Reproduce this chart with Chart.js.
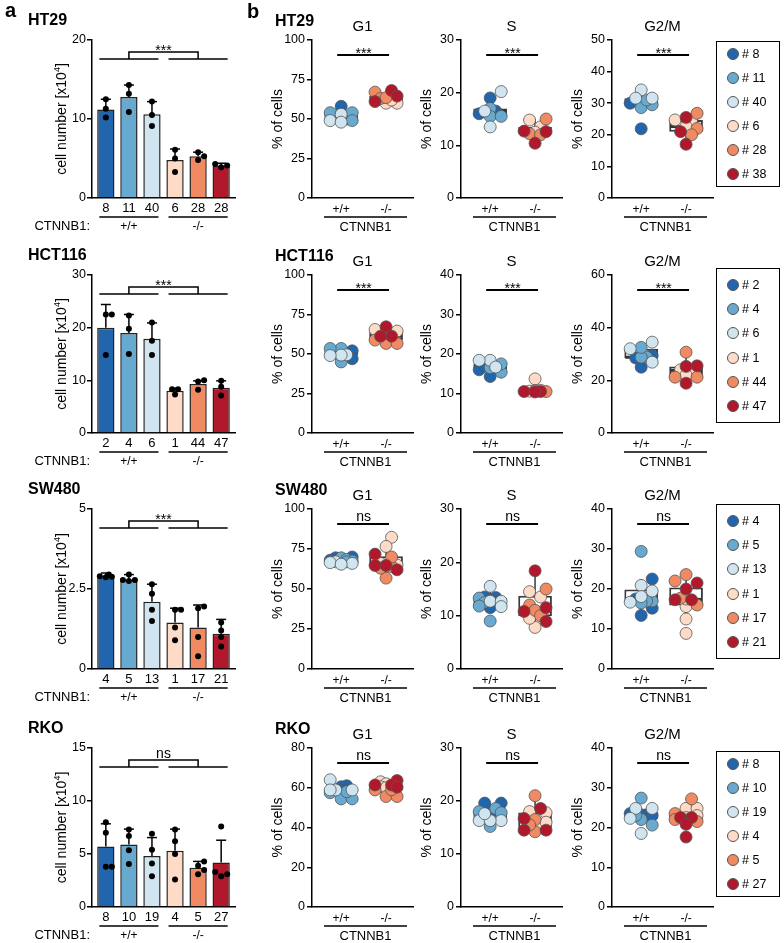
<!DOCTYPE html>
<html>
<head>
<meta charset="utf-8">
<script src="https://cdn.jsdelivr.net/npm/chart.js@4.4.0/dist/chart.umd.min.js"></script>
<style>
  body { margin: 0; background: #fff; }
  #fig { position: relative; width: 784px; height: 943px; overflow: hidden; font-family: "Liberation Sans", Arial, sans-serif; }
  #fig canvas { position: absolute; }
  .legend { position: absolute; border: 1.5px solid #000; box-sizing: border-box; display: flex; flex-direction: column; justify-content: center; }
  .legend .item { height: 24.3px; display: flex; align-items: center; font-size: 12.5px; padding-left: 10px; color: #000; }
  .legend .dot { width: 12px; height: 12px; border-radius: 50%; border: 1px solid #555; box-sizing: border-box; margin-right: 3px; }
</style>
</head>
<body>
<div id="fig"></div>
<script>
// ---- data ----
const cellLines = ['HT29', 'HCT116', 'SW480', 'RKO'];
const genotypes = ['+/+', '-/-'];
const phases = ['G1', 'S', 'G2/M'];
const cloneColors = ['#2166ac', '#67a9cf', '#d1e5f0', '#fddbc7', '#ef8a62', '#b2182b'];

const ht29Clones = ['8', '11', '40', '6', '28', '38'];
const hct116Clones = ['2', '4', '6', '1', '44', '47'];
const sw480Clones = ['4', '5', '13', '1', '17', '21'];
const rkoClones = ['8', '10', '19', '4', '5', '27'];
const ht29BarLabels = ['8', '11', '40', '6', '28', '28'];

// panel a: cell number [x10^4]
const ht29Means = [11.2, 12.8, 10.6, 4.8, 5.3, 4.1];
const ht29SD = [1.3, 1.5, 1.6, 1.4, 0.5, 0.3];
const ht29Reps = [[12.5, 11.3, 10.2], [14.3, 13.2, 10.9], [12.2, 10.5, 9.1], [6.1, 5.0, 3.3], [5.8, 5.3, 4.8], [4.3, 4.1, 3.9]];
const hct116Means = [20, 19, 17.9, 8, 9.3, 8.6];
const hct116SD = [4.4, 3.5, 3.0, 0.5, 0.6, 1.3];
const hct116Reps = [[22.5, 22.5, 14.8], [22.3, 19.8, 15.0], [21, 17.5, 14.8], [8.3, 8.3, 7.3], [10, 9.8, 8.2], [9.9, 8.8, 7.1]];
const sw480Means = [2.9, 2.8, 2.1, 1.45, 1.3, 1.1];
const sw480SD = [0.1, 0.15, 0.55, 0.45, 0.7, 0.45];
const sw480Reps = [[2.95, 2.9, 2.88, 2.87], [2.95, 2.78, 2.78, 2.75], [2.65, 2.35, 1.85, 1.5], [1.85, 1.85, 1.3, 0.9], [1.95, 1.9, 1.0, 0.4], [1.45, 1.2, 1.0, 0.7]];
const rkoMeans = [5.7, 5.9, 4.8, 5.3, 3.7, 4.2];
const rkoSD = [2.15, 1.45, 1.75, 2.05, 0.6, 2.1];
const rkoReps = [[8, 7, 3.8, 3.8], [7.3, 6.7, 5.35, 4.05], [6.9, 5.4, 4.1, 2.9], [7.3, 6.2, 5.0, 2.6], [4.3, 3.9, 3.5, 3.1], [7.6, 3.3, 3.1, 2.9]];

// panel b: % of cells per clone
const ht29G1 = [[58, 51, 50], [54, 54, 49], [53, 49, 48], [60, 60, 62], [67, 63, 63.5], [68, 64.5, 61]];
const ht29S = [[19, 16.5, 16], [17, 15.5, 15.5], [20.2, 16.5, 13.5], [14.8, 13.5, 12.5], [15, 12.2, 12], [12.7, 12.6, 10.4]];
const ht29G2M = [[21.9, 30, 30.5], [28.6, 29.5, 31], [34.2, 31.6, 31.6], [24.7, 24.7, 22.6], [26.8, 22, 20], [25.5, 21, 17]];
const hct116G1 = [[50.5, 52, 47], [53.5, 53.5, 45], [49.5, 49.3, 49], [65.5, 64.5, 62.5], [56.7, 56.7, 58.8], [67.2, 61.3, 61.3]];
const hct116S = [[14.3, 16, 17], [15.4, 16.5, 17.5], [18.4, 18.4, 16.7], [13.7, 10.8, 10.6], [10.5, 10.6, 10.7], [10.5, 10.5, 10.4]];
const hct116G2M = [[25, 28.5, 29.4], [28.8, 28.8, 32.5], [34.5, 32, 26.9], [24, 23.8, 22], [30.7, 21.2, 21.2], [25.5, 25.3, 18.9]];
const sw480G1 = [[70, 69.5, 68, 67.5], [69.5, 68.5, 67.5, 67], [67, 66.5, 66, 65.5], [82.3, 76.6, 66, 65], [56.8, 64, 70, 63], [71.8, 64.7, 64.7, 62]];
const sw480S = [[13.5, 13.4, 12.5, 11.5], [13.3, 12.5, 9, 11.8], [15.5, 12.7, 12.7, 11.7], [7.8, 9.5, 14.5, 13.5], [15, 12, 11, 10], [18.4, 11.5, 10.8, 8.9]];
const sw480G2M = [[22.5, 15.2, 13.4, 17.5], [29.4, 17, 17, 16.5], [20.9, 18.1, 16.7, 19.5], [15.6, 12.5, 8.9, 17.5], [23.6, 22, 17.7, 16], [21.5, 17.3, 17.3, 20]];
const rkoG1 = [[61, 60.5, 59, 58.5], [54.4, 54.4, 58, 57.5], [64, 58.9, 58.9, 58.9], [63, 62, 60.5, 60], [55.6, 55.6, 58.9, 59], [63.6, 61.4, 61.4, 60.3]];
const rkoS = [[19.6, 19.6, 17.8, 17.5], [18.6, 15.2, 17.8, 18], [16.3, 16.3, 16.3, 17.6], [17.8, 18, 15, 16], [21, 14.2, 16.5, 15.5], [18.6, 16.7, 14.5, 14.5]];
const rkoG2M = [[23.2, 23.2, 23, 23.5], [27.4, 20.6, 22, 23], [24.8, 24.8, 22.3, 18.5], [24.8, 24.8, 23, 22.5], [27.2, 23.5, 22, 21.5], [22.5, 22.5, 20.8, 17.6]];

// axis ranges / significance
const barMax = [20, 30, 5, 15];
const barStep = [10, 10, 2.5, 5];
const phaseMax = [[100, 30, 50], [100, 40, 60], [100, 30, 40], [80, 30, 40]];
const phaseStep = [[25, 10, 10], [25, 10, 20], [25, 10, 10], [20, 10, 10]];
const barSig = ['***', '***', '***', 'ns'];
const phaseSig = ['***', '***', 'ns', 'ns'];

const rows = [
  {clones: ht29Clones, labels: ht29BarLabels, means: ht29Means, sd: ht29SD, reps: ht29Reps, phases: [ht29G1, ht29S, ht29G2M]},
  {clones: hct116Clones, labels: hct116Clones, means: hct116Means, sd: hct116SD, reps: hct116Reps, phases: [hct116G1, hct116S, hct116G2M]},
  {clones: sw480Clones, labels: sw480Clones, means: sw480Means, sd: sw480SD, reps: sw480Reps, phases: [sw480G1, sw480S, sw480G2M]},
  {clones: rkoClones, labels: rkoClones, means: rkoMeans, sd: rkoSD, reps: rkoReps, phases: [rkoG1, rkoS, rkoG2M]}
];

// ---- layout ----
const areaTop = [40, 275, 509, 748];
const areaBottom = [198, 433, 669, 907];
const barLeft = 92, barRight = 235;
const colLeft = [312, 461, 612], colWidth = 101;
const legendTop = [41, 268, 504, 751];
const legendH = [146, 155, 155, 146];

const FONT = '"Liberation Sans", Arial, sans-serif';
Chart.defaults.font.family = FONT;
Chart.defaults.color = '#000';

function addCanvas(x, y, w, h) {
  const c = document.createElement('canvas');
  c.width = w; c.height = h;
  c.style.left = x + 'px'; c.style.top = y + 'px';
  c.style.width = w + 'px'; c.style.height = h + 'px';
  document.getElementById('fig').appendChild(c);
  return c;
}

function txt(ctx, s, x, y, size, opt = {}) {
  ctx.save();
  ctx.font = (opt.bold ? 'bold ' : '') + size + 'px ' + FONT;
  ctx.textAlign = opt.align || 'center';
  ctx.textBaseline = opt.base || 'middle';
  ctx.fillStyle = '#000';
  ctx.translate(x, y);
  if (opt.rot) ctx.rotate(opt.rot);
  ctx.fillText(s, 0, 0);
  ctx.restore();
}

function seg(ctx, pts, w = 1.5, col = '#000') {
  ctx.save();
  ctx.lineWidth = w; ctx.strokeStyle = col;
  ctx.beginPath();
  pts.forEach((p, i) => i ? ctx.lineTo(p[0], p[1]) : ctx.moveTo(p[0], p[1]));
  ctx.stroke();
  ctx.restore();
}

function cellNumberLabel(ctx, x, y) {
  ctx.save();
  ctx.translate(x, y); ctx.rotate(-Math.PI / 2);
  ctx.fillStyle = '#000'; ctx.textAlign = 'left'; ctx.textBaseline = 'alphabetic';
  ctx.font = '14px ' + FONT;
  const w1 = ctx.measureText('cell number [x10').width, w3 = ctx.measureText(']').width;
  ctx.font = '9px ' + FONT;
  const w2 = ctx.measureText('4').width;
  const s = -(w1 + w2 + w3) / 2;
  ctx.font = '14px ' + FONT; ctx.fillText('cell number [x10', s, 5);
  ctx.font = '9px ' + FONT; ctx.fillText('4', s + w1, -1);
  ctx.font = '14px ' + FONT; ctx.fillText(']', s + w1 + w2, 5);
  ctx.restore();
}

// compact beeswarm: offsets (x units), limited to +-maxOff px, overlap allowed when crowded
function swarm(vals, pxX, pxY, step, maxOff, minDist) {
  const order = vals.map((v, i) => i).sort((a, b) => vals[a] - vals[b]);
  const cands = [0];
  for (let k = 1; k * step <= maxOff + 0.01; k++) cands.push(k * step, -k * step);
  const placed = [], out = [];
  order.forEach(i => {
    const y = vals[i] * pxY;
    let best = 0, bestD = -1;
    for (const dx of cands) {
      const dmin = placed.length ? Math.min(...placed.map(p => Math.hypot(p[0] - dx, p[1] - y))) : Infinity;
      if (dmin >= minDist) { best = dx; bestD = Infinity; break; }
      if (dmin > bestD + 0.5) { best = dx; bestD = dmin; }
    }
    placed.push([best, y]);
    out[i] = best / pxX;
  });
  return out;
}

function quant(s, p) {
  const h = (s.length - 1) * p, lo = Math.floor(h);
  return s[lo] + (s[Math.min(lo + 1, s.length - 1)] - s[lo]) * (h - lo);
}
function boxStats(vals) {
  const s = [...vals].sort((a, b) => a - b);
  const q1 = quant(s, 0.25), med = quant(s, 0.5), q3 = quant(s, 0.75), iqr = q3 - q1;
  const inside = s.filter(v => v >= q1 - 1.5 * iqr && v <= q3 + 1.5 * iqr);
  return {q1, med, q3, lo: inside[0], hi: inside[inside.length - 1]};
}

const axisBorder = {display: true, color: '#000', width: 1.5};
const yGrid = {display: true, drawOnChartArea: false, drawTicks: true, tickLength: 5, color: '#000', lineWidth: 1.5};
const xGrid = {display: false, drawTicks: false, offset: false};

// ---- panel a plugin ----
const barDecor = {
  id: 'barDecor',
  afterDatasetDraw(chart, args, o) {
    if (args.index !== 0) return;
    const ctx = chart.ctx, xs = chart.scales.x, ys = chart.scales.y;
    o.means.forEach((m, i) => {
      const x = xs.getPixelForValue(i), y0 = ys.getPixelForValue(m), y1 = ys.getPixelForValue(m + o.sd[i]);
      seg(ctx, [[x, y0], [x, y1]]);
      seg(ctx, [[x - 5, y1], [x + 5, y1]]);
    });
  },
  afterDraw(chart, args, o) {
    const ctx = chart.ctx, a = chart.chartArea, xs = chart.scales.x;
    const X = v => xs.getPixelForValue(v);
    const T = a.top, B = a.bottom, L = a.left;
    if (o.letter) txt(ctx, o.letter, 5, T - 23, 20, {bold: true, align: 'left', base: 'alphabetic'});
    txt(ctx, o.title, L - 64, T - 15.5, 16, {bold: true, align: 'left', base: 'alphabetic'});
    cellNumberLabel(ctx, L - 31, (T + B) / 2);
    const groups = [[X(0) - 6.5, X(2) + 6.5], [X(3) - 6.5, X(5) + 6.5]];
    groups.forEach(([p, q]) => {
      seg(ctx, [[p, B + 19], [q, B + 19]]);
      seg(ctx, [[p, T + 19], [q, T + 19]]);
    });
    seg(ctx, [[X(1), T + 19], [X(1), T + 12], [X(4), T + 12], [X(4), T + 19]]);
    txt(ctx, o.sig, (X(1) + X(4)) / 2, T + 12 + (o.sig === 'ns' ? -2.5 : 2.5), 14, {base: 'alphabetic'});
    txt(ctx, 'CTNNB1:', L - 2, B + 32, 13, {align: 'right', base: 'alphabetic'});
    txt(ctx, genotypes[0], X(1), B + 32, 12, {base: 'alphabetic'});
    txt(ctx, genotypes[1], X(4), B + 32, 12, {base: 'alphabetic'});
  }
};

// ---- panel b plugin ----
const boxDecor = {
  id: 'boxDecor',
  afterDatasetDraw(chart, args, o) {
    if (args.index !== 0) return;
    const ctx = chart.ctx, ys = chart.scales.y, meta = chart.getDatasetMeta(0);
    o.stats.forEach((st, g) => {
      const el = meta.data[g], hw = el.width / 2 - 1;
      seg(ctx, [[el.x, ys.getPixelForValue(st.q3)], [el.x, ys.getPixelForValue(st.hi)]], 1.5, '#3a3a3a');
      seg(ctx, [[el.x, ys.getPixelForValue(st.q1)], [el.x, ys.getPixelForValue(st.lo)]], 1.5, '#3a3a3a');
      seg(ctx, [[el.x - hw, ys.getPixelForValue(st.med)], [el.x + hw, ys.getPixelForValue(st.med)]], 3, '#333');
    });
  },
  afterDraw(chart, args, o) {
    const ctx = chart.ctx, a = chart.chartArea, xs = chart.scales.x;
    const X = v => xs.getPixelForValue(v);
    const T = a.top, B = a.bottom, L = a.left, R = a.right;
    if (o.letter) txt(ctx, o.letter, L - 65, T - 22, 20, {bold: true, align: 'left', base: 'alphabetic'});
    if (o.title) txt(ctx, o.title, L - 37, T - 14.5, 16, {bold: true, align: 'left', base: 'alphabetic'});
    txt(ctx, o.phase, (L + R) / 2, T - 9, 15, {base: 'alphabetic'});
    txt(ctx, '% of cells', L - 34, (T + B) / 2, 14, {rot: -Math.PI / 2});
    const ly = T + 15;
    seg(ctx, [[X(0) - 4, ly], [X(1) + 3, ly]], 1.8);
    txt(ctx, o.sig, (X(0) + X(1)) / 2, ly + (o.sig === 'ns' ? -3.5 : 2.5), 14, {base: 'alphabetic'});
    seg(ctx, [[L + 12, B + 19], [L + 95, B + 19]]);
    txt(ctx, 'CTNNB1', L + 53.5, B + 33, 13, {base: 'alphabetic'});
  }
};

// ---- builders ----
function barPanel(r) {
  const d = rows[r];
  const T = areaTop[r], B = areaBottom[r], L = barLeft, R = barRight;
  const cx = 0, cy = T - 40, cw = R + 20, ch = B - cy + 40;
  const xmin = -0.6, xmax = 5.6;
  const pxX = (R - L) / (xmax - xmin), pxY = (B - T) / barMax[r];
  const pts = [];
  d.reps.forEach((vals, i) => {
    const off = swarm(vals, pxX, pxY, 3, 6, 5.5);
    vals.forEach((v, k) => pts.push({x: i + off[k], y: v}));
  });
  new Chart(addCanvas(cx, cy, cw, ch), {
    type: 'bar',
    data: {
      datasets: [
        {type: 'bar', data: d.means.map((m, i) => ({x: i, y: m})), backgroundColor: cloneColors,
          borderColor: '#222', borderWidth: 1.5, barPercentage: 0.75, categoryPercentage: 1, order: 10},
        {type: 'scatter', data: pts, backgroundColor: '#000', borderWidth: 0, pointRadius: 3, order: 1}
      ]
    },
    options: {
      responsive: false, animation: false, events: [],
      layout: {padding: {left: 0, top: T - cy, right: cx + cw - R, bottom: 0}},
      plugins: {legend: {display: false}, tooltip: {enabled: false},
        barDecor: {means: d.means, sd: d.sd, title: cellLines[r], sig: barSig[r], letter: r === 0 ? 'a' : ''}},
      scales: {
        x: {type: 'linear', min: xmin, max: xmax, offset: false,
          afterFit: s => { s.height = cy + ch - B; },
          afterBuildTicks: s => { s.ticks = d.labels.map((_, i) => ({value: i})); },
          ticks: {callback: v => d.labels[v], font: {size: 13}, padding: 2.5, autoSkip: false, maxRotation: 0},
          grid: xGrid, border: axisBorder},
        y: {min: 0, max: barMax[r],
          afterFit: s => { s.width = L - cx; },
          ticks: {stepSize: barStep[r], font: {size: 12.5}, padding: 1},
          grid: yGrid, border: axisBorder}
      }
    },
    plugins: [barDecor]
  });
}

function boxPanel(r, c) {
  const clones = rows[r].phases[c];
  const T = areaTop[r], B = areaBottom[r], L = colLeft[c], R = L + colWidth;
  const cx = L - 80, cy = T - 40, cw = colWidth + 100, ch = B - cy + 40;
  const xmin = -0.65, xmax = 1.6;
  const yMax = phaseMax[r][c];
  const pxX = (R - L) / (xmax - xmin), pxY = (B - T) / yMax;
  const xs = clones.map(() => []);
  const stats = [];
  [[0, 1, 2], [3, 4, 5]].forEach((group, g) => {
    const vals = [], refs = [];
    group.forEach(ci => clones[ci].forEach((v, k) => { vals.push(v); refs.push([ci, k]); }));
    const off = swarm(vals, pxX, pxY, 5.5, 11, 10);
    refs.forEach(([ci, k], j) => { xs[ci][k] = g + off[j]; });
    stats.push(boxStats(vals));
  });
  const datasets = [{type: 'bar', data: stats.map((s, g) => ({x: g, y: [s.q1, s.q3]})),
    backgroundColor: '#fff', borderColor: '#3a3a3a', borderWidth: 2, borderSkipped: false,
    barPercentage: 0.75, categoryPercentage: 1, order: 10}];
  clones.forEach((vals, ci) => datasets.push({
    type: 'scatter', data: vals.map((v, k) => ({x: xs[ci][k], y: v})),
    backgroundColor: cloneColors[ci], borderColor: '#555', borderWidth: 0.8, pointRadius: 6, order: 7 - ci
  }));
  new Chart(addCanvas(cx, cy, cw, ch), {
    type: 'bar',
    data: {datasets},
    options: {
      responsive: false, animation: false, events: [],
      layout: {padding: {left: 0, top: T - cy, right: cx + cw - R, bottom: 0}},
      plugins: {legend: {display: false}, tooltip: {enabled: false},
        boxDecor: {stats, phase: phases[c], sig: phaseSig[r],
          title: c === 0 ? cellLines[r] : '', letter: (r === 0 && c === 0) ? 'b' : ''}},
      scales: {
        x: {type: 'linear', min: xmin, max: xmax, offset: false,
          afterFit: s => { s.height = cy + ch - B; },
          afterBuildTicks: s => { s.ticks = genotypes.map((_, i) => ({value: i})); },
          ticks: {callback: v => genotypes[v], font: {size: 12}, padding: 4, autoSkip: false, maxRotation: 0},
          grid: xGrid, border: axisBorder},
        y: {min: 0, max: yMax,
          afterFit: s => { s.width = L - cx; },
          ticks: {stepSize: phaseStep[r][c], font: {size: 12.5}, padding: 2},
          grid: yGrid, border: axisBorder}
      }
    },
    plugins: [boxDecor]
  });
}

function legendBox(r) {
  const box = document.createElement('div');
  box.className = 'legend';
  box.style.left = '716px'; box.style.top = legendTop[r] + 'px';
  box.style.width = '64px'; box.style.height = legendH[r] + 'px';
  rows[r].clones.forEach((name, i) => {
    const it = document.createElement('div');
    it.className = 'item';
    it.innerHTML = '<span class="dot" style="background:' + cloneColors[i] + '"></span># ' + name;
    box.appendChild(it);
  });
  document.getElementById('fig').appendChild(box);
}

rows.forEach((_, r) => {
  barPanel(r);
  [0, 1, 2].forEach(c => boxPanel(r, c));
  legendBox(r);
});
</script>
</body>
</html>
